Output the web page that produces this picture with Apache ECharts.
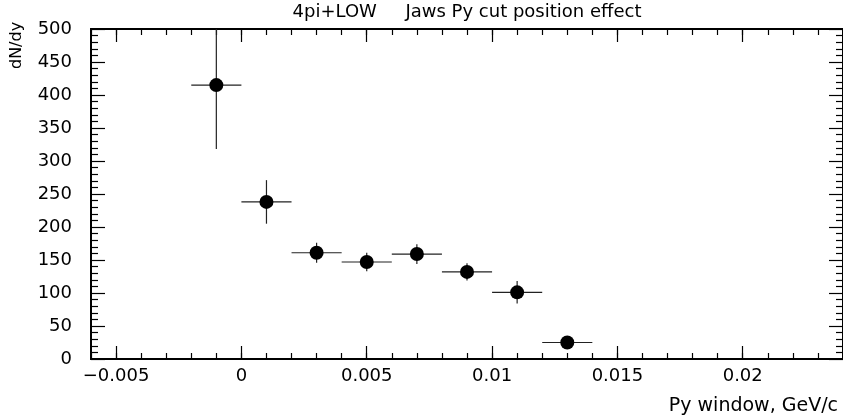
<!DOCTYPE html>
<html>
<head>
<meta charset="utf-8">
<script src="https://cdn.jsdelivr.net/npm/echarts@6/dist/echarts.min.js"></script>
<style>html,body{margin:0;padding:0;background:#fff}#c{width:843px;height:416px}</style>
</head>
<body>
<div id="c"></div>
<script>
// ---- data ----
const titleText = '4pi+LOW     Jaws Py cut position effect';
const xAxisTitle = 'Py window, GeV/c';
const yAxisTitle = 'dN/dy';
const xCenters = [-0.001, 0.001, 0.003, 0.005, 0.007, 0.009, 0.011, 0.013];
const xHalfWidths = [0.001, 0.001, 0.001, 0.001, 0.001, 0.001, 0.001, 0.001];
const yValues = [415, 238, 161, 147, 159, 132, 101, 25];
const yErrors = [97, 33, 15, 14, 15, 13, 17, 5];
const xTickValues = [-0.005, 0, 0.005, 0.01, 0.015, 0.02];
const xTickLabels = ['\u22120.005', '0', '0.005', '0.01', '0.015', '0.02'];
const xMin = -0.006, xMax = 0.024, xMinorStep = 0.001;
const yMin = 0, yMax = 500, yStep = 50;

const FONT = 'DejaVu Sans';
const chart = echarts.init(document.getElementById('c'), null, {renderer: 'canvas'});

const pts = xCenters.map((x, i) => [x, yValues[i], xHalfWidths[i], yErrors[i]]);

const axLine = {show: true, onZero: false, lineStyle: {color: '#000', width: 2}};
function xAx(pos, major, labels) {
  return {
    type: 'value', position: pos, min: xMin, max: xMax,
    interval: major ? undefined : xMinorStep,
    axisLine: axLine,
    splitLine: {show: false},
    axisTick: major
      ? {show: true, inside: true, length: 13, lineStyle: {color: '#000', width: 1.2}, customValues: xTickValues}
      : {show: true, inside: true, length: 6, lineStyle: {color: '#000', width: 1.2}},
    axisLabel: labels
      ? {show: true, customValues: xTickValues, margin: 8, color: '#000', fontFamily: FONT, fontSize: 18,
         formatter: function (v) { const k = xTickValues.findIndex(t => Math.abs(t - v) < 1e-9); return k >= 0 ? xTickLabels[k] : ''; }}
      : {show: false}
  };
}
function yAx(pos, labels) {
  return {
    type: 'value', position: pos, min: yMin, max: yMax, interval: yStep,
    axisLine: axLine,
    splitLine: {show: false},
    axisTick: {show: true, inside: true, length: 14, lineStyle: {color: '#000', width: 1.2}},
    minorTick: {show: true, splitNumber: 5, length: 7, lineStyle: {color: '#000', width: 1.2}},
    minorSplitLine: {show: false},
    axisLabel: labels ? {show: true, margin: 19, color: '#000', fontFamily: FONT, fontSize: 18} : {show: false}
  };
}

const option = {
  backgroundColor: '#fff',
  animation: false,
  grid: {left: 91, right: 0, top: 29, bottom: 57, containLabel: false},
  xAxis: [xAx('bottom', true, true), xAx('bottom', false, false), xAx('top', true, false), xAx('top', false, false)],
  yAxis: [yAx('left', true), yAx('right', false)],
  graphic: [
    {type: 'text', x: 467, y: 3, style: {text: titleText, fill: '#000', font: '18px "' + FONT + '"', align: 'center', verticalAlign: 'top'}},
    {type: 'text', x: 838, y: 397, style: {text: xAxisTitle, fill: '#000', font: '19px "' + FONT + '"', align: 'right', verticalAlign: 'top'}},
    {type: 'text', x: 9, y: 69, rotation: Math.PI / 2, style: {text: yAxisTitle, fill: '#000', font: '16px "' + FONT + '"', align: 'left', verticalAlign: 'top'}}
  ],
  series: [
    {
      type: 'custom', xAxisIndex: 0, yAxisIndex: 0,
      data: pts,
      renderItem: function (params, api) {
        const x = api.value(0), y = api.value(1), dx = api.value(2), dy = api.value(3);
        const l = api.coord([x - dx, y]), r = api.coord([x + dx, y]);
        const b = api.coord([x, Math.max(y - dy, yMin)]), t = api.coord([x, Math.min(y + dy, yMax)]);
        const st = {stroke: '#222', lineWidth: 1.2};
        return {type: 'group', children: [
          {type: 'line', shape: {x1: l[0], y1: l[1], x2: r[0], y2: r[1]}, style: st},
          {type: 'line', shape: {x1: b[0], y1: b[1], x2: t[0], y2: t[1]}, style: st}
        ]};
      },
      z: 2
    },
    {
      type: 'scatter', xAxisIndex: 0, yAxisIndex: 0,
      data: pts.map(p => [p[0], p[1]]),
      symbol: 'circle', symbolSize: 14,
      itemStyle: {color: '#000', opacity: 1},
      z: 3
    }
  ]
};
chart.setOption(option);
</script>
</body>
</html>
